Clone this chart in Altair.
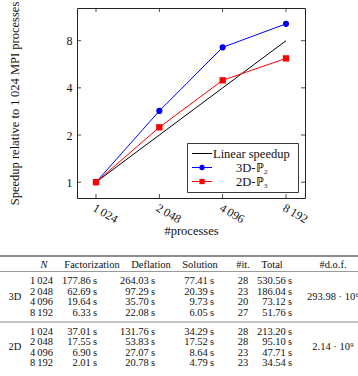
import altair as alt
import pandas as pd

# ---------------- chart data ----------------
procs = [1024, 2048, 4096, 8192]
speedup_linear = [1.0, 2.0, 4.0, 8.0]
speedup_3d = [1.0, 2.85, 7.26, 10.25]
speedup_2d = [1.0, 2.24, 4.47, 6.17]
series_names = ["Linear speedup", "3D-\u2119\u2082", "2D-\u2119\u2083"]
series_colors = ["#000000", "#0000ff", "#ff0000"]
series_marks = [None, "circle", "square"]

x_ticks = [1024, 2048, 4096, 8192]
x_tick_labels = ["1\u2009024", "2\u2009048", "4\u2009096", "8\u2009192"]
y_ticks = [1, 2, 4, 8]
y_tick_labels = ["1", "2", "4", "8"]

# ---------------- table data ----------------
tbl_header = ["N", "Factorization", "Deflation", "Solution", "#it.", "Total", "#d.o.f."]
tbl_groups = ["3D", "2D"]
tbl_N = ["1\u2009024", "2\u2009048", "4\u2009096", "8\u2009192"]
fact_3d = [177.86, 62.69, 19.64, 6.33]
defl_3d = [264.03, 97.29, 35.70, 22.08]
sol_3d = [77.41, 20.39, 9.73, 6.05]
it_3d = [28, 23, 20, 27]
total_3d = [530.56, 186.04, 73.12, 51.76]
dof_3d = "293.98 \u00b7 10\u2076"
fact_2d = [37.01, 17.55, 6.90, 2.01]
defl_2d = [131.76, 53.83, 27.07, 20.78]
sol_2d = [34.29, 17.52, 8.64, 4.79]
it_2d = [28, 28, 23, 23]
total_2d = [213.20, 95.10, 47.71, 34.54]
dof_2d = "2.14 \u00b7 10\u2079"

# ---------------- layout ----------------
TOTAL_W, TOTAL_H = 358, 376
W, H = 228, 190
PL, PT = 77, 8
FONT = "Liberation Serif"
INK = "#111111"

X_DOM = [2 ** 9.7, 2 ** 13.3]
Y_DOM = [2 ** -0.336, 2 ** 3.694]

# table layout (page coordinates)
hdr_y = 265
row_y = {"3D": [281, 291.5, 302, 312.5], "2D": [331.5, 342, 352.5, 363]}
rules_y = [256, 271.5, 322]
rules_w = [1.3, 0.6, 1.0]
rules_c = ["#666666", "#555555", "#888888"]
hdr_x = [44, 92, 151, 200, 243, 272, 333]
col_right = {"N": 53, "fact": 97, "defl": 155, "sol": 214, "total": 292}
col_center = {"group": 15, "it": 243, "dof": 333}
TBL_FS = 10.5

# legend layout (page coordinates)
leg_box = {"x": 187.5, "y": 143.5, "x2": 298.5, "y2": 192.5}
leg_rows = [153.5, 167.5, 181.5]
leg_line = (192, 212)
leg_label_x = [213, 252, 252]
leg_label_align = ["left", "center", "center"]

# ---------------- plot ----------------
xs = alt.Scale(type="log", base=2, domain=X_DOM, nice=False)
ys = alt.Scale(type="log", base=2, domain=Y_DOM, nice=False)


def label_expr(vals, labels):
    expr = "''"
    for v, l in reversed(list(zip(vals, labels))):
        expr = f"datum.value == {v} ? '{l}' : ({expr})"
    return expr


x_axis = alt.Axis(values=x_ticks, labelExpr=label_expr(x_ticks, x_tick_labels),
                  labelAngle=30, labelAlign="left", labelBaseline="top", labelPadding=4,
                  ticks=False, domain=False, grid=False, labelFont=FONT, labelFontSize=12,
                  labelColor=INK, title="#processes", titleFont=FONT, titleFontSize=12.5,
                  titleFontWeight="normal", titleColor=INK, titlePadding=0, labelFlush=False,
                  labelOverlap=False)
y_axis = alt.Axis(values=y_ticks, labelExpr=label_expr(y_ticks, y_tick_labels),
                  ticks=False, domain=False, grid=False, labelFont=FONT, labelFontSize=12,
                  labelColor=INK, labelPadding=5, title="Speedup relative to 1\u2009024 MPI processes",
                  titleFont=FONT, titleFontSize=12.5, titleFontWeight="normal", titleColor=INK,
                  titlePadding=45, labelFlush=False, labelOverlap=False)

df = pd.DataFrame({
    "procs": procs * 3,
    "speedup": speedup_linear + speedup_3d + speedup_2d,
    "series": [s for s in series_names for _ in procs],
})

X = alt.X("procs:Q", scale=xs, axis=x_axis)
Y = alt.Y("speedup:Q", scale=ys, axis=y_axis)

lines = alt.Chart(df).mark_line(strokeWidth=1).encode(
    x=X, y=Y,
    color=alt.Color("series:N", scale=alt.Scale(domain=series_names, range=series_colors), legend=None),
)
pts3 = alt.Chart(df).transform_filter(alt.datum.series == series_names[1]).mark_point(
    filled=True, shape="circle", size=38, opacity=1, color=series_colors[1]).encode(x=X, y=Y)
pts2 = alt.Chart(df).transform_filter(alt.datum.series == series_names[2]).mark_point(
    filled=True, shape="square", size=40, opacity=1, color=series_colors[2]).encode(x=X, y=Y)

# inward tick marks on all four sides
tick_style = dict(size=4, thickness=0.8, color="#222222", opacity=1)
bt = alt.Chart(pd.DataFrame({"procs": x_ticks, "speedup": [Y_DOM[0]] * len(x_ticks)})).mark_tick(
    orient="vertical", yOffset=-2, **tick_style).encode(x=X, y=Y)
tt = alt.Chart(pd.DataFrame({"procs": x_ticks, "speedup": [Y_DOM[1]] * len(x_ticks)})).mark_tick(
    orient="vertical", yOffset=2, **tick_style).encode(x=X, y=Y)
lt = alt.Chart(pd.DataFrame({"procs": [X_DOM[0]] * len(y_ticks), "speedup": y_ticks})).mark_tick(
    orient="horizontal", xOffset=2, **tick_style).encode(x=X, y=Y)
rt = alt.Chart(pd.DataFrame({"procs": [X_DOM[1]] * len(y_ticks), "speedup": y_ticks})).mark_tick(
    orient="horizontal", xOffset=-2, **tick_style).encode(x=X, y=Y)

plot = alt.layer(lines, pts3, pts2, bt, tt, lt, rt)

# ---------------- overlay: table + legend (page-coordinate scales) ----------------
tx = alt.Scale(domain=[0, TOTAL_W], range=[-PL, TOTAL_W - PL], nice=False, zero=False)
ty = alt.Scale(domain=[0, TOTAL_H], range=[-PT, TOTAL_H - PT], nice=False, zero=False)
TX = alt.X("x:Q", scale=tx, axis=None)
TY = alt.Y("y:Q", scale=ty, axis=None)


def secs(v):
    return f"{v:.2f}\u2009s"


right_cells, center_cells = [], []
for g, fa, de, so, it, to, dof in [
    ("3D", fact_3d, defl_3d, sol_3d, it_3d, total_3d, dof_3d),
    ("2D", fact_2d, defl_2d, sol_2d, it_2d, total_2d, dof_2d),
]:
    yy = row_y[g]
    for i in range(4):
        right_cells += [
            {"x": col_right["N"], "y": yy[i], "t": tbl_N[i]},
            {"x": col_right["fact"], "y": yy[i], "t": secs(fa[i])},
            {"x": col_right["defl"], "y": yy[i], "t": secs(de[i])},
            {"x": col_right["sol"], "y": yy[i], "t": secs(so[i])},
            {"x": col_right["total"], "y": yy[i], "t": secs(to[i])},
        ]
        center_cells.append({"x": col_center["it"], "y": yy[i], "t": str(it[i])})
    gy = (yy[0] + yy[-1]) / 2
    center_cells.append({"x": col_center["group"], "y": gy, "t": g})
    center_cells.append({"x": col_center["dof"], "y": gy, "t": dof})
for hx, ht in zip(hdr_x[1:], tbl_header[1:]):
    center_cells.append({"x": hx, "y": hdr_y, "t": ht})

txt_style = dict(baseline="middle", font=FONT, fontSize=TBL_FS, color=INK)
t_right = alt.Chart(pd.DataFrame(right_cells)).mark_text(align="right", **txt_style).encode(
    x=TX, y=TY, text="t:N")
t_center = alt.Chart(pd.DataFrame(center_cells)).mark_text(align="center", **txt_style).encode(
    x=TX, y=TY, text="t:N")
t_italic = alt.Chart(pd.DataFrame([{"x": hdr_x[0], "y": hdr_y, "t": tbl_header[0]}])).mark_text(
    align="center", fontStyle="italic", **txt_style).encode(x=TX, y=TY, text="t:N")

overlay_layers = []
for ry, rw, rc in zip(rules_y, rules_w, rules_c):
    overlay_layers.append(
        alt.Chart(pd.DataFrame({"x": [0], "x2": [TOTAL_W], "y": [ry]})).mark_rule(
            strokeWidth=rw, color=rc).encode(x=TX, x2="x2:Q", y=TY)
    )
overlay_layers += [t_right, t_center, t_italic]

# legend
overlay_layers.append(
    alt.Chart(pd.DataFrame([leg_box])).mark_rect(fill="white", stroke="#222222", strokeWidth=0.9).encode(
        x=TX, x2="x2:Q", y=TY, y2="y2:Q")
)
for name, col, mk, ry, lx, la in zip(series_names, series_colors, series_marks, leg_rows,
                                     leg_label_x, leg_label_align):
    overlay_layers.append(
        alt.Chart(pd.DataFrame({"x": [leg_line[0]], "x2": [leg_line[1]], "y": [ry]})).mark_rule(
            strokeWidth=1, color=col).encode(x=TX, x2="x2:Q", y=TY)
    )
    if mk:
        overlay_layers.append(
            alt.Chart(pd.DataFrame({"x": [(leg_line[0] + leg_line[1]) / 2], "y": [ry]})).mark_point(
                filled=True, shape=mk, size=28, opacity=1, color=col).encode(x=TX, y=TY)
        )
    overlay_layers.append(
        alt.Chart(pd.DataFrame({"x": [lx], "y": [ry], "t": [name]})).mark_text(
            align=la, baseline="middle", font=FONT, fontSize=12.5, color=INK).encode(
            x=TX, y=TY, text="t:N")
    )

overlay = alt.layer(*overlay_layers)

chart = alt.layer(plot, overlay).resolve_scale(x="independent", y="independent").properties(
    width=W, height=H,
    padding={"left": PL, "top": PT, "right": TOTAL_W - PL - W, "bottom": TOTAL_H - PT - H},
    autosize=alt.AutoSizeParams(type="none"),
    background="white",
).configure_view(stroke="#222222", strokeWidth=1)

chart.save("out.html", embed_options={"renderer": "svg", "actions": False})
